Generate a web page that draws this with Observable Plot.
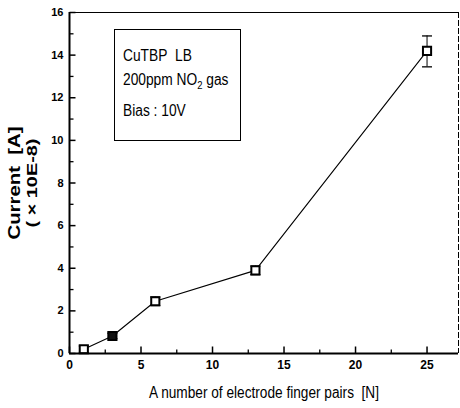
<!DOCTYPE html>
<html><head><meta charset="utf-8">
<script src="https://cdn.jsdelivr.net/npm/d3@7"></script>
<script src="https://cdn.jsdelivr.net/npm/@observablehq/plot@0.6"></script>
<style>
body{margin:0;background:#fff;}
#wrap{position:relative;width:460px;height:408px;}
#legend{position:absolute;left:114px;top:29px;width:127px;height:112px;border:1.5px solid #000;box-sizing:border-box;
  font-family:"Liberation Sans",Arial,sans-serif;font-size:16px;color:#000;line-height:18px;}
#legend div{position:absolute;left:7.5px;white-space:nowrap;transform:scaleX(0.86);transform-origin:0 0;}
</style></head><body><div id="wrap"><div id="legend"><div style="top:16.5px">CuTBP&nbsp; LB</div><div style="top:40.5px">200ppm NO<sub style="font-size:11px;line-height:0">2</sub> gas</div><div style="top:71.5px">Bias : 10V</div></div></div>
<script>
const fingerPairs = [1, 3, 6, 13, 25];
const current = [0.2, 0.82, 2.45, 3.9, 14.2];
const errLow = [0.05, 0.7, 2.25, 3.7, 13.45];
const errHigh = [0.35, 0.95, 2.65, 4.1, 14.9];
const xTicks = [0, 5, 10, 15, 20, 25];
const xMinor = [2.5, 7.5, 12.5, 17.5, 22.5];
const yTicks = [0, 2, 4, 6, 8, 10, 12, 14, 16];
const yMinor = [1, 3, 5, 7, 9, 11, 13, 15];
const xLabel = "A number of electrode finger pairs  [N]";
const yLabel1 = "Current  [A]";
const yLabel2 = "( × 10E-8)";

const data = fingerPairs.map((n, i) => ({N: n, I: current[i], lo: errLow[i], hi: errHigh[i]}));

const sym = (f) => ({draw(ctx, size) { f(ctx); }});
const capSym = sym(c => { c.moveTo(-5, 0); c.lineTo(5, 0); });
const yTickMaj = sym(c => { c.moveTo(0, 0); c.lineTo(6, 0); });
const yTickMin = sym(c => { c.moveTo(0, 0); c.lineTo(4, 0); });
const xTickMaj = sym(c => { c.moveTo(0, 0); c.lineTo(0, -7); });
const xTickMin = sym(c => { c.moveTo(0, 0); c.lineTo(0, -4); });
const FONT = '"Liberation Sans",Arial,sans-serif';

const chart = Plot.plot({
  width: 460, height: 408,
  marginLeft: 69, marginRight: 2, marginTop: 12, marginBottom: 55,
  style: {fontFamily: FONT, color: "#000", background: "#fff"},
  x: {domain: [0, 27.2]},
  y: {domain: [0, 16]},
  marks: [
    Plot.ruleY([16], {stroke: "#000", strokeWidth: 1}),
    Plot.ruleX([27.2], {stroke: "#000", strokeWidth: 1, strokeDasharray: "6,2"}),
    Plot.line(data, {x: "N", y: "I", stroke: "#000", strokeWidth: 1.1}),
    Plot.ruleX(data, {x: "N", y1: "lo", y2: "hi", stroke: "#000", strokeWidth: 1}),
    Plot.dot(data, {x: "N", y: "lo", symbol: capSym, stroke: "#000", strokeWidth: 1.3}),
    Plot.dot(data, {x: "N", y: "hi", symbol: capSym, stroke: "#000", strokeWidth: 1.3}),
    Plot.dot(data, {x: "N", y: "I", symbol: "square", r: 4.6, stroke: "#000", strokeWidth: 2, fill: d => d.N === 3 ? "#111" : "#fff"}),
    Plot.dot(yTicks, {x: 0, y: d => d, symbol: yTickMaj, stroke: "#000", strokeWidth: 1.5}),
    Plot.dot(yMinor, {x: 0, y: d => d, symbol: yTickMin, stroke: "#000", strokeWidth: 1.3}),
    Plot.dot(xTicks, {x: d => d, y: 0, symbol: xTickMaj, stroke: "#000", strokeWidth: 1.5}),
    Plot.dot(xMinor, {x: d => d, y: 0, symbol: xTickMin, stroke: "#000", strokeWidth: 1.3}),
    Plot.ruleX([0], {stroke: "#000", strokeWidth: 2}),
    Plot.ruleY([0], {stroke: "#000", strokeWidth: 2}),
    Plot.axisY({ticks: yTicks, tickSize: 0, tickPadding: 6, fontSize: 11, fontWeight: "bold", label: null}),
    Plot.axisX({ticks: xTicks, tickSize: 0, tickPadding: 7, fontSize: 12, fontWeight: "bold", label: null}),
    Plot.text([yLabel1], {frameAnchor: "left", textAnchor: "middle", rotate: -90, dx: -55, fontSize: 16, fontWeight: "bold"}),
    Plot.text([yLabel2], {frameAnchor: "left", textAnchor: "middle", rotate: -90, dx: -37, fontSize: 15, fontWeight: "bold"}),
    Plot.text([xLabel], {frameAnchor: "bottom", textAnchor: "middle", dy: 44, fontSize: 16})
  ]
});
document.getElementById("wrap").prepend(chart);
chart.style.position = "absolute"; chart.style.left = "0"; chart.style.top = "0";
function fit(label, len) {
  d3.select(chart).selectAll("text").each(function() {
    if (this.textContent !== label) return;
    this.setAttribute("textLength", len);
    this.setAttribute("lengthAdjust", "spacingAndGlyphs");
  });
}
fit(xLabel, 230);
fit(yLabel1, 113);
fit(yLabel2, 89);
</script>
</body></html>
